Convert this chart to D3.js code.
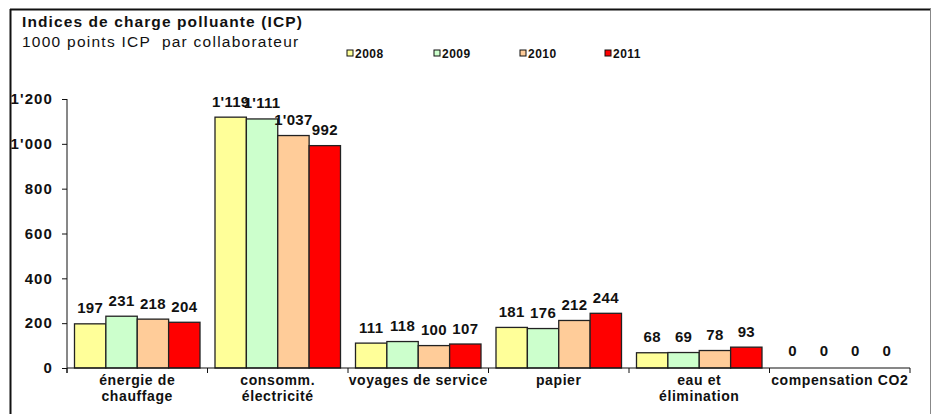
<!DOCTYPE html>
<html>
<head>
<meta charset="utf-8">
<script src="https://cdn.jsdelivr.net/npm/d3@7"></script>
<style>
  body { margin: 0; background: #fff; }
  svg text { font-family: Arial, "Liberation Sans", sans-serif; fill: #111; }
</style>
</head>
<body>
<svg id="chart" width="932" height="414"></svg>
<script>
'use strict';

const categories = ["énergie de\nchauffage", "consomm.\nélectricité", "voyages de service", "papier", "eau et\nélimination", "compensation CO2"];
const years = ["2008", "2009", "2010", "2011"];
const values2008 = [197, 1119, 111, 181, 68, 0];
const values2009 = [231, 1111, 118, 176, 69, 0];
const values2010 = [218, 1037, 100, 212, 78, 0];
const values2011 = [204, 992, 107, 244, 93, 0];
const yTicks = [0, 200, 400, 600, 800, 1000, 1200];
const colors = ["#ffff99", "#ccffcc", "#ffcc99", "#ff0000"];

const series = [values2008, values2009, values2010, values2011];

const swiss = d3.formatLocale({ decimal: ".", thousands: "'", grouping: [3], currency: ["", ""] });
const fmt = swiss.format(",d");

const svg = d3.select("#chart");

// frame
svg.append("line").attr("x1", 10).attr("x2", 931).attr("y1", 9.5).attr("y2", 9.5)
    .attr("stroke", "#111").attr("stroke-width", 2);
svg.append("line").attr("x1", 10.5).attr("x2", 10.5).attr("y1", 9).attr("y2", 414)
    .attr("stroke", "#111").attr("stroke-width", 2);
svg.append("line").attr("x1", 930.5).attr("x2", 930.5).attr("y1", 9).attr("y2", 414)
    .attr("stroke", "#888").attr("stroke-width", 1);

// titles
svg.append("text").attr("x", 22).attr("y", 27)
    .style("font-size", "15.5px").style("font-weight", "bold")
    .style("letter-spacing", "1.1px")
    .text("Indices de charge polluante (ICP)");
svg.append("text").attr("x", 22).attr("y", 47)
    .style("font-size", "15.5px").style("letter-spacing", "1.25px")
    .style("white-space", "pre")
    .text("1000 points ICP  par collaborateur");

// legend
const legendX = [347, 434, 520, 605];
const legend = svg.append("g").selectAll("g")
    .data(years)
    .enter()
    .append("g")
    .attr("transform", (d, i) => "translate(" + legendX[i] + ",50)");
legend.append("rect").attr("width", 6).attr("height", 6)
    .attr("fill", (d, i) => colors[i]).attr("stroke", "#111").attr("stroke-width", 1);
legend.append("text").attr("x", 8).attr("y", 7.5)
    .style("font-size", "12px").style("font-weight", "bold").style("letter-spacing", "0.5px")
    .text(d => d);

// scales
const x = d3.scaleBand().domain(d3.range(categories.length)).range([67, 910]).padding(0);
const y = d3.scaleLinear().domain([0, 1200]).range([368, 99]);
const inner = d3.scaleBand().domain(d3.range(years.length))
    .range([7.5, x.bandwidth() - 7.5]).padding(0);

// y axis
const yAxis = svg.append("g")
    .attr("transform", "translate(67,0)")
    .call(d3.axisLeft(y).tickValues(yTicks).tickFormat(fmt).tickSize(5).tickPadding(9));
yAxis.select(".domain").attr("stroke", "#111").attr("d", "M0," + y(1200) + "V" + (y(0) + 5));
yAxis.selectAll("line").attr("stroke", "#111");
yAxis.selectAll("text").style("font-size", "15px").style("font-weight", "bold")
    .style("letter-spacing", "1.1px")
    .attr("font-family", null).attr("fill", null);

// bars
const groups = svg.append("g").selectAll("g")
    .data(categories)
    .enter()
    .append("g")
    .attr("transform", (d, i) => "translate(" + x(i) + ",0)");

groups.selectAll("rect")
    .data((d, i) => series.map((s, k) => ({ k: k, v: s[i] })))
    .enter()
    .append("rect")
    .attr("x", d => inner(d.k))
    .attr("width", inner.bandwidth())
    .attr("y", d => y(d.v))
    .attr("height", d => y(0) - y(d.v))
    .attr("fill", d => colors[d.k])
    .attr("stroke", "#222")
    .attr("stroke-width", d => d.v > 0 ? 1.3 : 0);

groups.selectAll("text.val")
    .data((d, i) => series.map((s, k) => ({ k: k, v: s[i] })))
    .enter()
    .append("text")
    .attr("class", "val")
    .attr("x", d => inner(d.k) + inner.bandwidth() / 2)
    .attr("y", d => y(d.v) - (d.v > 0 ? 10.5 : 12))
    .attr("text-anchor", "middle")
    .style("font-size", "15px").style("font-weight", "bold").style("letter-spacing", "0.3px")
    .text(d => fmt(d.v));

// x axis
const xAxis = svg.append("g").attr("transform", "translate(0," + y(0) + ")");
xAxis.append("line").attr("x1", 67).attr("x2", 910).attr("stroke", "#111").attr("stroke-width", 1.2);
xAxis.selectAll("line.tick")
    .data(d3.range(categories.length + 1))
    .enter()
    .append("line")
    .attr("class", "tick")
    .attr("x1", i => i < categories.length ? x(i) : x.range()[1])
    .attr("x2", i => i < categories.length ? x(i) : x.range()[1])
    .attr("y1", 0).attr("y2", 5)
    .attr("stroke", "#111");

xAxis.selectAll("text")
    .data(categories)
    .enter()
    .append("text")
    .attr("x", (d, i) => x(i) + x.bandwidth() / 2)
    .attr("y", 17)
    .attr("text-anchor", "middle")
    .style("font-size", "14px").style("font-weight", "bold").style("letter-spacing", "0.6px")
    .each(function (d) {
        const lines = d.split("\n");
        d3.select(this).selectAll("tspan")
            .data(lines)
            .enter()
            .append("tspan")
            .attr("x", d3.select(this).attr("x"))
            .attr("dy", (l, j) => j === 0 ? 0 : 15.5)
            .text(l => l);
    });
</script>
</body>
</html>
